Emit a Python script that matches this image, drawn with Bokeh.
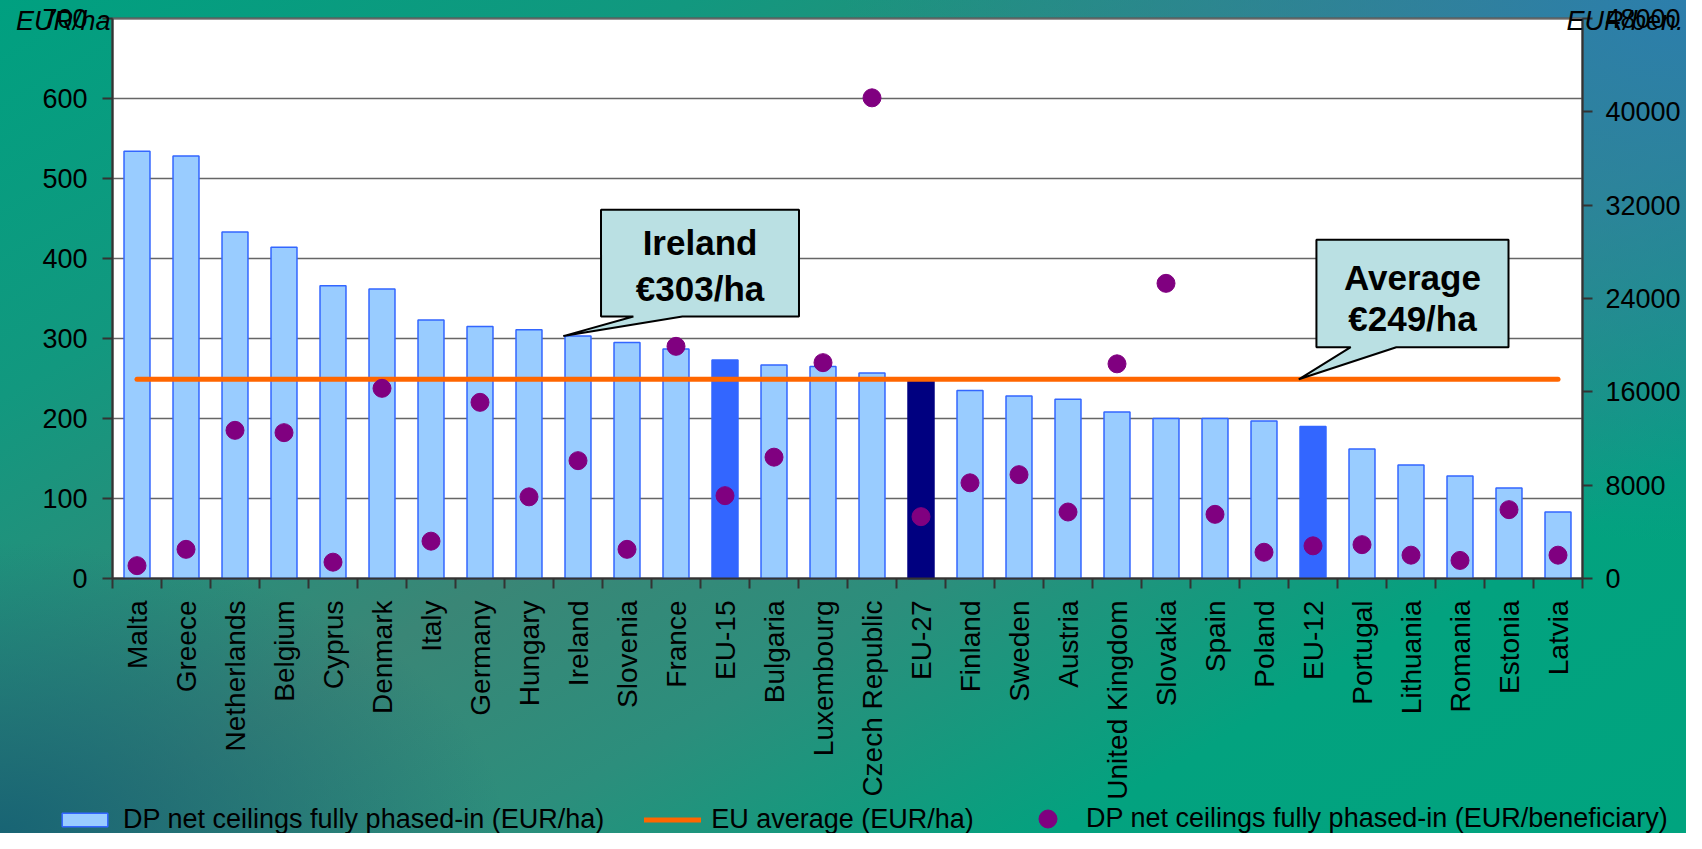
import math
from bokeh.plotting import figure
from bokeh.models import Range1d, LinearAxis, FixedTicker, Legend, LegendItem, Label
from bokeh.embed import file_html
from bokeh.resources import INLINE
from bokeh.core.properties import value

# ---------------- data ----------------
countries = ["Malta", "Greece", "Netherlands", "Belgium", "Cyprus", "Denmark", "Italy",
             "Germany", "Hungary", "Ireland", "Slovenia", "France", "EU-15", "Bulgaria",
             "Luxembourg", "Czech Republic", "EU-27", "Finland", "Sweden", "Austria",
             "United Kingdom", "Slovakia", "Spain", "Poland", "EU-12", "Portugal",
             "Lithuania", "Romania", "Estonia", "Latvia"]
eur_per_ha = [534, 528, 433, 414, 366, 362, 323, 315, 311, 303, 295, 287, 273, 267,
              265, 257, 249, 235, 228, 224, 208, 200, 200, 197, 190, 162, 142, 128, 113, 83]
eur_per_ben = [1100, 2500, 12700, 12500, 1400, 16300, 3200, 15100, 7000, 10100, 2500,
               19900, 7100, 10400, 18500, 41200, 5300, 8200, 8900, 5700, 18400, 25300,
               5500, 2250, 2800, 2900, 2000, 1550, 5900, 2000]
eu_average = 249
ha_ticks = [0, 100, 200, 300, 400, 500, 600, 700]
ben_ticks = [0, 8000, 16000, 24000, 32000, 40000, 48000]

FONT = "Liberation Sans"
n = len(countries)
idx = list(range(n))

# ---------------- layout (pixels) ----------------
W, H = 1686, 833
PLOT_L, PLOT_R, PLOT_T, PLOT_B = 112, 1582, 18, 578
px_x = (PLOT_R - PLOT_L) / n                      # px per category
px_y = (PLOT_B - PLOT_T) / (ha_ticks[-1] - ha_ticks[0])
x0d, x1d = -0.5, n - 0.5
y_lo = ha_ticks[0] - (H - PLOT_B) / px_y
y_hi = ha_ticks[-1] + PLOT_T / px_y
ben_scale = (ben_ticks[-1] - ben_ticks[0]) / (ha_ticks[-1] - ha_ticks[0])

fill_colors, line_colors = [], []
for c in countries:
    if c == "EU-27":
        fill_colors.append("#000080"); line_colors.append("#000080")
    elif c in ("EU-15", "EU-12"):
        fill_colors.append("#3366ff"); line_colors.append("#3366ff")
    else:
        fill_colors.append("#99ccff"); line_colors.append("#3366ff")

p = figure(width=W, height=H, output_backend="svg", toolbar_location=None,
           x_range=Range1d(x0d - PLOT_L / px_x, x0d + (W - PLOT_L) / px_x),
           y_range=Range1d(y_lo, y_hi), min_border=0)
p.title.visible = False
p.extra_y_ranges = {"ben": Range1d(y_lo * ben_scale, y_hi * ben_scale)}

p.background_fill_color = None
p.border_fill_color = None
p.outline_line_color = None
p.styles = {
    "background": (
        "radial-gradient(ellipse 50% 65% at 100% 0%, rgba(44,126,172,1) 0%, rgba(44,126,172,0) 100%),"
        "radial-gradient(ellipse 30% 35% at 0% 100%, rgba(24,100,116,1) 0%, rgba(24,100,116,0) 100%),"
        "linear-gradient(150deg, #00a080 0%, #12987f 22%, #3a8676 48%, #2c8e7c 62%, #03a27f 80%, #00a47f 100%)"
    )
}

# plot area
p.quad(left=[x0d], right=[x1d], bottom=[ha_ticks[0]], top=[ha_ticks[-1]],
       fill_color="white", line_color="#555555", line_width=2)
# horizontal grid lines
p.segment(x0=[x0d] * (len(ha_ticks) - 1), x1=[x1d] * (len(ha_ticks) - 1),
          y0=ha_ticks[1:], y1=ha_ticks[1:], line_color="#666666", line_width=1.5)

# bars
bars = p.vbar(x=idx, top=eur_per_ha, width=0.53, fill_color=fill_colors,
              line_color=line_colors, line_width=1.5)

# average line
avg_line = p.line(x=[idx[0], idx[-1]], y=[eu_average, eu_average],
                  line_color="#ff6600", line_width=5, line_cap="round")

# callouts
ire = countries.index("Ireland")
ire_val = eur_per_ha[ire]
bx0, bx1, by0, by1 = 9.47, 13.51, 327.5, 460.9
p.patch(x=[bx0, bx1, bx1, 11.13, ire - 0.30, 10.13, bx0],
        y=[by1, by1, by0, by0, ire_val, by0, by0],
        fill_color="#bae0e3", line_color="black", line_width=2)
ax0, ax1, ay0, ay1 = 24.07, 27.99, 289.1, 423.4
p.patch(x=[ax0, ax1, ax1, 25.70, 23.71, 24.77, ax0],
        y=[ay1, ay1, ay0, ay0, eu_average, ay0, ay0],
        fill_color="#bae0e3", line_color="black", line_width=2)
p.text(x=[(bx0 + bx1) / 2, (bx0 + bx1) / 2, (ax0 + ax1) / 2, (ax0 + ax1) / 2],
       y=[420.4, 362.0, 376.6, 324.6],
       text=["Ireland", "\u20ac%d/ha" % ire_val, "Average", "\u20ac%d/ha" % eu_average],
       text_font=value(FONT), text_font_style="bold", text_font_size="35px",
       text_align="center", text_baseline="middle", text_color="black")

# dots
dots = p.scatter(x=idx, y=eur_per_ben, size=18, fill_color="#800080", line_color="#800080",
                 y_range_name="ben")

# axes
p.xgrid.visible = False
p.ygrid.visible = False

yax = p.yaxis[0]
yax.ticker = FixedTicker(ticks=ha_ticks)
yax.fixed_location = x0d
yax.bounds = (ha_ticks[0], ha_ticks[-1])
rax = LinearAxis(y_range_name="ben", ticker=FixedTicker(ticks=ben_ticks),
                 fixed_location=x1d, bounds=(ben_ticks[0], ben_ticks[-1]))
p.add_layout(rax, "right")
for ax in (yax, rax):
    ax.axis_line_color = "#333333"
    ax.axis_line_width = 2
    ax.major_tick_line_color = "#333333"
    ax.major_tick_line_width = 2
    ax.major_tick_out = 10
    ax.major_tick_in = 0
    ax.minor_tick_line_color = None
    ax.major_label_text_font = FONT
    ax.major_label_text_font_size = "27px"
    ax.major_label_text_color = "black"
yax.major_label_standoff = 15
rax.major_label_standoff = 13

xax = p.xaxis[0]
xax.ticker = FixedTicker(ticks=idx, minor_ticks=[i - 0.5 for i in range(n + 1)])
xax.fixed_location = ha_ticks[0]
xax.bounds = (x0d, x1d)
xax.major_label_overrides = {i: c for i, c in enumerate(countries)}
xax.major_label_orientation = math.pi / 2
xax.axis_line_color = "#333333"
xax.axis_line_width = 2
xax.major_tick_out = 0
xax.major_tick_in = 0
xax.minor_tick_out = 10
xax.minor_tick_in = 0
xax.minor_tick_line_color = "#333333"
xax.minor_tick_line_width = 2
xax.major_label_standoff = 12
xax.major_label_text_font = FONT
xax.major_label_text_font_size = "28px"
xax.major_label_text_color = "black"

# axis titles at the top corners
title_y = ha_ticks[-1] - 2 / px_y
p.add_layout(Label(x=x0d - 2 / px_x, y=title_y, text="EUR/ha", text_align="right",
                   text_baseline="middle", text_font=FONT, text_font_style="italic",
                   text_font_size="27px", text_color="black"))
p.add_layout(Label(x=x0d + (1683 - PLOT_L) / px_x, y=title_y, text="EUR/ben.",
                   text_align="right", text_baseline="middle", text_font=FONT,
                   text_font_style="italic", text_font_size="27px", text_color="black"))

# legends
common = dict(orientation="horizontal", label_standoff=10, padding=0, margin=0,
              background_fill_alpha=0, border_line_alpha=0, label_text_font=FONT,
              label_text_font_size="27px", label_text_color="black", glyph_width=57,
              label_height=32)
leg_a = Legend(items=[LegendItem(label="DP net ceilings fully phased-in (EUR/ha)", renderers=[bars], index=0),
                      LegendItem(label="EU average (EUR/ha)", renderers=[avg_line])],
               location=(56, -2), glyph_height=17, spacing=40, **common)
leg_b = Legend(items=[LegendItem(label="DP net ceilings fully phased-in (EUR/beneficiary)", renderers=[dots], index=0)],
               location=(1019, -8), glyph_height=45, spacing=0, **common)
p.add_layout(leg_a)
p.add_layout(leg_b)

open("out.html", "w").write(file_html(p, INLINE))
